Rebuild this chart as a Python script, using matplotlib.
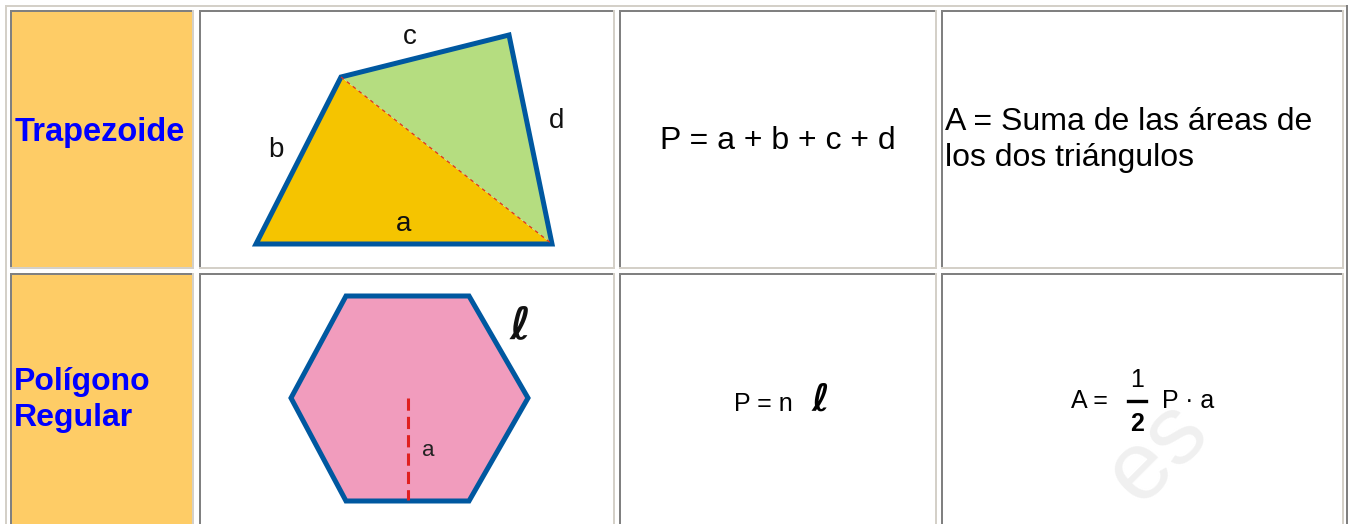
import matplotlib
matplotlib.use('Agg')
import matplotlib.pyplot as plt
from matplotlib.patches import Polygon, Rectangle

W, H = 1349, 524

# table layout (pixels)
col_x = [(10, 194), (199, 615), (619, 937), (941, 1344)]
row_y = [(10, 269), (273, 540)]

names = ["Trapezoide", "Polígono\nRegular"]
perimeters = ["P = a + b + c + d", "P = n"]
area_row1 = "A = Suma de las áreas de\nlos dos triángulos"

# trapezoid vertices: bottom-left, top-left, top-right, bottom-right
trap_x = [256, 341, 509, 552]
trap_y = [244, 77, 35, 244]
trap_labels = ["a", "b", "c", "d"]
trap_label_x = [404, 276, 410, 557]
trap_label_y = [224, 150, 37, 121]

# hexagon vertices
hex_x = [346, 469, 528, 469, 346, 291]
hex_y = [296, 296, 398, 501, 501, 398]

LIGHT = '#d4d0c8'
DARK = '#808080'
ORANGE = '#fecc66'
EDGE = '#0058a0'
ELL = ['DejaVu Sans']

fig = plt.figure(figsize=(W / 100, H / 100), dpi=100)
ax = fig.add_axes([0, 0, 1, 1])
ax.set_xlim(0, W)
ax.set_ylim(H, 0)
ax.axis('off')


def hline(x0, x1, y, c, t=2):
    ax.add_patch(Rectangle((x0, y), x1 - x0, t, color=c, lw=0))


def vline(x, y0, y1, c, t=2):
    ax.add_patch(Rectangle((x, y0), t, y1 - y0, color=c, lw=0))


# outer table border
hline(5, 1348, 5, LIGHT)
vline(5, 5, 540, LIGHT)
vline(1346, 5, 540, DARK)

for r, (y0, y1) in enumerate(row_y):
    for c, (x0, x1) in enumerate(col_x):
        if c == 0:
            ax.add_patch(Rectangle((x0, y0), x1 - x0, y1 - y0, color=ORANGE, lw=0))
        hline(x0, x1, y0, DARK)
        vline(x0, y0, y1, DARK)
        vline(x1 - 2, y0, y1, LIGHT)
        hline(x0, x1, y1 - 2, LIGHT)

# watermark
ax.text(1158, 452, "es", fontsize=70, color='#f0f0f0', rotation=45,
        ha='center', va='center', family='Liberation Sans', zorder=0.5)

# names
ax.text(15, 132, names[0], color='#0000ff', fontsize=23.5, fontweight='bold',
        family='Liberation Sans', va='center')
ax.text(14, 400, names[1], color='#0000ff', fontsize=23, fontweight='bold',
        family='Liberation Sans', va='center', linespacing=1.25)

# trapezoid
ax.add_patch(Polygon(list(zip([trap_x[0], trap_x[1], trap_x[3]], [trap_y[0], trap_y[1], trap_y[3]])),
                     closed=True, facecolor='#f5c400', edgecolor='none'))
ax.add_patch(Polygon(list(zip(trap_x[1:], trap_y[1:])), closed=True,
                     facecolor='#b5dd80', edgecolor='none'))
ax.plot([trap_x[1], trap_x[3]], [trap_y[1], trap_y[3]], color='#e03020', lw=0.9,
        dashes=(3, 3))
ax.add_patch(Polygon(list(zip(trap_x, trap_y)), closed=True, facecolor='none',
                     edgecolor=EDGE, lw=3.6, joinstyle='miter'))
for lab, lx, ly in zip(trap_labels, trap_label_x, trap_label_y):
    ax.text(lx, ly, lab, fontsize=20, color='#111111', ha='center', va='center',
            family='Liberation Sans')

# hexagon
ax.add_patch(Polygon(list(zip(hex_x, hex_y)), closed=True, facecolor='#f19cbd',
                     edgecolor=EDGE, lw=3.6, joinstyle='miter'))
ax.plot([408, 408], [398, 500], color='#e02020', lw=2.2, dashes=(4, 2))
ax.text(428, 450, "a", fontsize=16, color='#222222', ha='center', va='center',
        family='Liberation Sans')
ax.text(520, 326, "ℓ", fontsize=32, color='#111111', ha='center', va='center',
        family=ELL, style='italic', fontweight='bold')

# perimeter column
ax.text(778, 141, perimeters[0], fontsize=23, ha='center', va='center',
        family='Liberation Sans')
ax.text(763, 404, perimeters[1], fontsize=18, ha='center', va='center',
        family='Liberation Sans')
ax.text(820, 401, "ℓ", fontsize=27, ha='center', va='center',
        family=ELL, style='italic', fontweight='bold')

# area column
ax.text(945, 140, area_row1, fontsize=23, ha='left', va='center',
        family='Liberation Sans', linespacing=1.25)
ax.text(1089, 401, "A =", fontsize=18, ha='center', va='center',
        family='Liberation Sans')
ax.text(1137, 380, "1", fontsize=18, ha='center', va='center',
        family='Liberation Sans')
ax.plot([1128, 1146], [401, 401], color='black', lw=2.4)
ax.text(1137, 424, "2", fontsize=18, ha='center', va='center',
        family='Liberation Sans', fontweight='bold')
ax.text(1188, 401, "P · a", fontsize=18, ha='center', va='center',
        family='Liberation Sans')

fig.savefig('out.png', dpi=100)
